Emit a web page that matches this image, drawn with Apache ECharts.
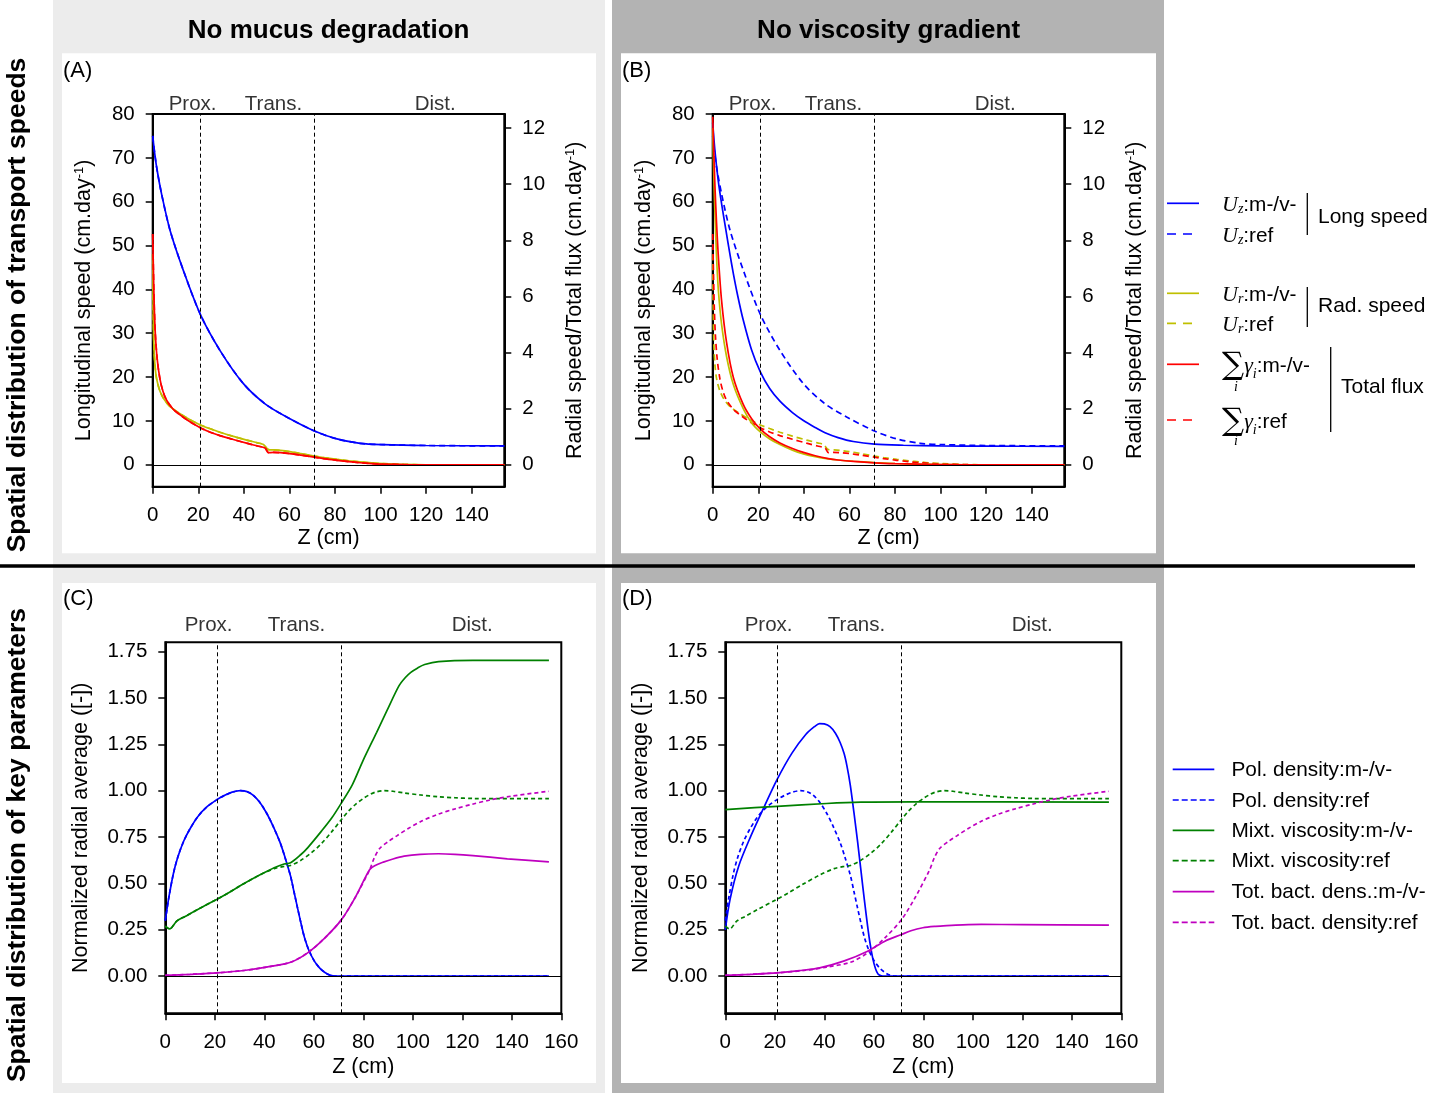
<!DOCTYPE html>
<html><head><meta charset="utf-8">
<script src="https://cdn.jsdelivr.net/npm/echarts@6/dist/echarts.min.js"></script>
<style>html,body{margin:0;padding:0;background:#fff}#c{width:1448px;height:1093px}</style>
</head><body><div id="c"></div>
<script>
// ---------- DATA ----------
// Region annotations
const regionNames = ['Prox.', 'Trans.', 'Dist.'];
const regionLabelX = [17.5, 53, 124];
const regionBounds = [21, 71];

// Tick labels
const xTicksAB = [0, 20, 40, 60, 80, 100, 120, 140];
const yTicksSpeed = [0, 10, 20, 30, 40, 50, 60, 70, 80];
const yTicksRadial = [0, 2, 4, 6, 8, 10, 12];
const xTicksCD = [0, 20, 40, 60, 80, 100, 120, 140, 160];
const yTicksNorm = [0, 0.25, 0.5, 0.75, 1.0, 1.25, 1.5, 1.75];

// Reference simulation: longitudinal speed (cm/day)
const zUz = [0, 1, 2, 4, 7.6, 13.4, 20.9, 29.5, 39.8, 49.3, 58.8, 71, 80.8, 91, 101, 120, 154.3];
const uzRef = [75, 70.5, 67, 61.5, 53.5, 44.4, 34.3, 26.1, 18.5, 13.9, 10.9, 7.7, 5.9, 4.9, 4.6, 4.4, 4.3];
// Reference: radial speed (right axis)
const zUr = [0, 0.2, 0.5, 1, 1.75, 3.2, 5, 7.6, 12, 16, 20.9, 25, 29.5, 35, 41.2, 46, 48.6, 50.8, 53, 56, 60, 65, 71, 75, 80.8, 86, 91, 96, 101, 110, 120, 154.3];
const urRef = [7.5, 5.6, 4.3, 3.55, 3.05, 2.62, 2.33, 2.07, 1.82, 1.62, 1.42, 1.29, 1.16, 1.02, 0.88, 0.78, 0.72, 0.54, 0.53, 0.51, 0.47, 0.40, 0.31, 0.255, 0.19, 0.14, 0.10, 0.065, 0.04, 0.012, 0, 0];
// Reference: total flux (right axis)
const zFlux = [0, 0.3, 0.7, 1.2, 2, 3.2, 4.5, 6.1, 9, 12, 16, 20.9, 25, 29.5, 35, 41.2, 46, 49.3, 50.8, 53, 56, 60, 65, 71, 75, 80.8, 86, 91, 96, 101, 110, 120, 154.3];
const fluxRef = [8.22, 7.0, 5.6, 4.6, 3.75, 3.05, 2.62, 2.3, 1.98, 1.78, 1.55, 1.32, 1.17, 1.04, 0.91, 0.77, 0.67, 0.6, 0.43, 0.44, 0.43, 0.40, 0.345, 0.27, 0.22, 0.16, 0.11, 0.072, 0.043, 0.022, 0.005, 0, 0];

// No mucus degradation (panel A): curves coincide with reference
const uzNoDeg = uzRef;
const urNoDeg = urRef;
const fluxNoDeg = fluxRef;

// No viscosity gradient (panel B)
const zUzB = [0, 1, 2.5, 4, 5.8, 7.5, 9.1, 11, 13.4, 17, 20.9, 25, 29.5, 35, 39.8, 45, 49.3, 55, 61.7, 71, 83.7, 100, 120, 154.3];
const uzNoVisc = [78, 71.5, 64.5, 59.2, 53.5, 48.2, 43.5, 38.5, 33, 26.3, 21.2, 17.4, 14.5, 11.9, 10.1, 8.5, 7.3, 6.2, 5.3, 4.7, 4.45, 4.3, 4.25, 4.2];
const zRadB = [0, 0.5, 1, 1.7, 2.5, 3.9, 6.1, 9.1, 13.4, 17, 20.9, 25, 29.5, 35, 39.8, 45, 50.7, 55, 61.7, 71, 80, 90, 100, 110, 154.3];
const urNoVisc = [12, 10.3, 8.9, 7.4, 6.2, 5.0, 3.85, 2.85, 2.0, 1.5, 1.17, 0.92, 0.72, 0.52, 0.39, 0.29, 0.21, 0.17, 0.125, 0.08, 0.045, 0.02, 0.007, 0, 0];
const fluxNoVisc = [12.4, 11.1, 9.9, 8.6, 7.4, 5.85, 4.35, 3.1, 2.15, 1.65, 1.27, 1.0, 0.78, 0.58, 0.44, 0.32, 0.22, 0.17, 0.12, 0.07, 0.04, 0.02, 0.006, 0, 0];

// Reference: normalized radial averages
const zPol = [0, 0.55, 1.5, 3.3, 5, 7.5, 10, 13.1, 17, 20.9, 24, 27, 30.4, 33, 35.3, 38, 40.9, 43.5, 46.4, 48.5, 50.6, 52, 53.4, 55, 56.2, 58, 60.3, 62.5, 64.5, 66.5, 68.7, 80, 100, 155];
const polRef = [0.30, 0.35, 0.43, 0.555, 0.64, 0.73, 0.795, 0.86, 0.915, 0.952, 0.975, 0.992, 1.0, 0.995, 0.978, 0.94, 0.88, 0.81, 0.72, 0.635, 0.54, 0.455, 0.37, 0.275, 0.21, 0.14, 0.08, 0.042, 0.02, 0.006, 0, 0, 0, 0];
const zVisc = [0, 1.7, 4.7, 8, 13.1, 20.9, 25.6, 31.1, 38.1, 44, 48, 50.6, 54.8, 59, 63.1, 67, 71.2, 74, 77, 80, 82.6, 85, 88.1, 92, 96.5, 103, 110.4, 117, 124.3, 135, 155];
const viscRef = [0.27, 0.255, 0.298, 0.322, 0.36, 0.415, 0.45, 0.494, 0.545, 0.58, 0.592, 0.597, 0.625, 0.665, 0.715, 0.775, 0.845, 0.89, 0.928, 0.958, 0.979, 0.993, 1.0, 0.997, 0.988, 0.977, 0.967, 0.962, 0.958, 0.957, 0.957];
const zBact = [0, 10, 20.9, 32.5, 40.9, 50.6, 57.5, 64.5, 71.2, 77, 82.6, 84.5, 86.7, 90, 93.7, 98, 103.4, 110, 117.3, 124, 131.2, 140, 155];
const bactRef = [0.004, 0.01, 0.018, 0.032, 0.049, 0.075, 0.126, 0.207, 0.305, 0.431, 0.575, 0.64, 0.69, 0.725, 0.758, 0.795, 0.835, 0.872, 0.903, 0.927, 0.95, 0.971, 0.997];

// No mucus degradation (panel C)
const polNoDeg = polRef;
const zViscC = [0, 1.7, 4.7, 8, 13.1, 20.9, 25.6, 31.1, 38.1, 44, 48, 50.6, 54.8, 57.5, 63.1, 67.3, 71.2, 75.6, 79.8, 85.4, 89.5, 94.4, 97, 99.2, 102, 104.8, 110.4, 124.3, 155];
const viscNoDeg = [0.27, 0.255, 0.298, 0.322, 0.36, 0.415, 0.45, 0.494, 0.545, 0.585, 0.605, 0.611, 0.656, 0.692, 0.782, 0.854, 0.935, 1.033, 1.16, 1.315, 1.43, 1.565, 1.61, 1.638, 1.662, 1.68, 1.696, 1.703, 1.703];
const zBactC = [0, 10, 20.9, 32.5, 40.9, 50.6, 57.5, 64.5, 71.2, 77, 82.6, 85, 88.1, 92, 96.5, 103, 110.4, 117, 124.3, 138.2, 155];
const bactNoDeg = [0.004, 0.01, 0.018, 0.032, 0.049, 0.075, 0.126, 0.207, 0.305, 0.431, 0.575, 0.598, 0.615, 0.632, 0.647, 0.657, 0.66, 0.657, 0.65, 0.633, 0.616];

// No viscosity gradient (panel D)
const zPolD = [0, 1.9, 5.4, 10.3, 15.8, 20.9, 27, 32.5, 36, 38.1, 40, 42.3, 44.5, 46.4, 48, 49.2, 50.5, 52, 53.5, 54.8, 56.2, 57.5, 58.5, 59.6, 60.7, 61.7, 63, 64.5, 80, 100, 155];
const polNoVisc = [0.25, 0.413, 0.593, 0.755, 0.916, 1.06, 1.204, 1.303, 1.345, 1.362, 1.36, 1.345, 1.31, 1.26, 1.2, 1.13, 1.03, 0.88, 0.72, 0.57, 0.41, 0.27, 0.175, 0.095, 0.04, 0.012, 0.002, 0, 0, 0, 0];
const zViscD = [0, 20.9, 40.9, 54.8, 75.6, 155];
const viscNoVisc = [0.898, 0.916, 0.931, 0.938, 0.94, 0.938];
const zBactD = [0, 10, 20.9, 30, 38.1, 47.8, 57.5, 64.5, 71.2, 75, 79.8, 85, 89.5, 96, 103.4, 120, 155];
const bactNoVisc = [0.004, 0.01, 0.018, 0.03, 0.045, 0.081, 0.135, 0.189, 0.225, 0.245, 0.261, 0.269, 0.273, 0.277, 0.279, 0.278, 0.275];

// ---------- CHART ----------
const FF = '"Liberation Sans", Arial, sans-serif';
const SERIF = '"Liberation Serif", "DejaVu Serif", serif';
const BLUE = '#0000ff', YEL = '#bfbf00', RED = '#ff0000', GREEN = '#008000', MAG = '#bf00bf';
const TICKFS = 20.5, NAMEFS = 21.5;

function ln(xs, ys, color, dashed, xi, yi, dash) {
  return {
    type: 'line', xAxisIndex: xi, yAxisIndex: yi,
    data: xs.map((x, i) => [x, ys[i]]),
    showSymbol: false, symbol: 'none', smooth: 0.3,
    lineStyle: { color: color, width: 1.7, type: dashed ? dash : 'solid' },
    silent: true, animation: false
  };
}
function regions(xi, yi, top, dist) {
  const dashLine = { type: [4, 3], width: 1, color: '#000' };
  return {
    type: 'scatter', xAxisIndex: xi, yAxisIndex: yi,
    data: regionLabelX.map((x, i) => ({ value: [x, top], name: regionNames[i] })),
    symbolSize: 1, itemStyle: { color: 'rgba(0,0,0,0)' }, silent: true, animation: false, clip: false,
    label: { show: true, position: 'top', distance: dist, formatter: '{b}', fontSize: TICKFS, color: '#000', fontFamily: FF },
    markLine: {
      silent: true, symbol: 'none', animation: false, label: { show: false },
      data: [
        { xAxis: regionBounds[0], lineStyle: dashLine },
        { xAxis: regionBounds[1], lineStyle: dashLine },
        { yAxis: 0, lineStyle: { type: 'solid', width: 1, color: '#000' } }
      ]
    }
  };
}
function xAx(gi, max, ticks, nameGap, margin) {
  return {
    type: 'value', gridIndex: gi, min: 0, max: max,
    axisLine: { show: true, onZero: false, lineStyle: { color: '#000', width: 2 } },
    axisTick: { show: true, length: 7, lineStyle: { color: '#000', width: 1.5 }, customValues: ticks },
    axisLabel: { customValues: ticks, fontSize: TICKFS, color: '#000', margin: margin, fontFamily: FF },
    splitLine: { show: false },
    name: 'Z (cm)', nameLocation: 'middle', nameGap: nameGap,
    nameTextStyle: { fontSize: NAMEFS, color: '#000', fontFamily: FF }
  };
}
function yAx(gi, pos, min, max, ticks, name, gap, fmt) {
  return {
    type: 'value', gridIndex: gi, position: pos, min: min, max: max,
    axisLine: { show: true, onZero: false, lineStyle: { color: '#000', width: 2 } },
    axisTick: { show: true, length: 7, lineStyle: { color: '#000', width: 1.5 }, customValues: ticks },
    axisLabel: { customValues: ticks, fontSize: TICKFS, color: '#000', margin: 18, fontFamily: FF, formatter: fmt },
    splitLine: { show: false },
    name: name, nameLocation: 'middle', nameGap: gap, nameRotate: 90,
    nameTextStyle: { fontSize: NAMEFS, color: '#000', fontFamily: FF,
      rich: { sup: { fontSize: 13, verticalAlign: 'top', fontFamily: FF, color: '#000' } } }
  };
}

const grids = [
  { left: 152.7, top: 114, width: 351.6, height: 372.7 },
  { left: 712.7, top: 114, width: 351.6, height: 372.7 },
  { left: 165.3, top: 642.3, width: 396, height: 371 },
  { left: 725.3, top: 642.3, width: 396, height: 371 }
].map(g => Object.assign(g, { show: true, borderColor: '#000', borderWidth: 2, backgroundColor: 'rgba(0,0,0,0)', containLabel: false }));

const speedName = 'Longitudinal speed (cm.day{sup|-1})';
const radName = 'Radial speed/Total flux (cm.day{sup|-1})';
const normName = 'Normalized radial average ([-])';
const f2 = v => v.toFixed(2);

const xAxes = [
  xAx(0, 154.3, xTicksAB, 39, 18),
  xAx(1, 154.3, xTicksAB, 39, 18),
  xAx(2, 160, xTicksCD, 43, 19),
  xAx(3, 160, xTicksCD, 43, 19)
];
const yAxes = [
  yAx(0, 'left', -5, 80, yTicksSpeed, speedName, 58),
  yAx(0, 'right', -0.78125, 12.5, yTicksRadial, radName, 60),
  yAx(1, 'left', -5, 80, yTicksSpeed, speedName, 58),
  yAx(1, 'right', -0.78125, 12.5, yTicksRadial, radName, 60),
  yAx(2, 'left', -0.2, 1.8, yTicksNorm, normName, 73, f2),
  yAx(3, 'left', -0.2, 1.8, yTicksNorm, normName, 73, f2)
];

const series = [
  regions(0, 0, 80, -1), regions(1, 2, 80, -1), regions(2, 4, 1.8, 6), regions(3, 5, 1.8, 6),
  // Panel A
  ln(zUz, uzRef, BLUE, true, 0, 0, [6, 4]),
  ln(zUz, uzNoDeg, BLUE, false, 0, 0),
  ln(zUr, urRef, YEL, true, 0, 1, [6, 4]),
  ln(zUr, urNoDeg, YEL, false, 0, 1),
  ln(zFlux, fluxRef, RED, true, 0, 1, [6, 4]),
  ln(zFlux, fluxNoDeg, RED, false, 0, 1),
  // Panel B
  ln(zUz, uzRef, BLUE, true, 1, 2, [6, 4]),
  ln(zUzB, uzNoVisc, BLUE, false, 1, 2),
  ln(zUr, urRef, YEL, true, 1, 3, [6, 4]),
  ln(zFlux, fluxRef, RED, true, 1, 3, [6, 4]),
  ln(zRadB, urNoVisc, YEL, false, 1, 3),
  ln(zRadB, fluxNoVisc, RED, false, 1, 3),
  // Panel C
  ln(zPol, polRef, BLUE, true, 2, 4, [4, 3]),
  ln(zPol, polNoDeg, BLUE, false, 2, 4),
  ln(zVisc, viscRef, GREEN, true, 2, 4, [4, 3]),
  ln(zViscC, viscNoDeg, GREEN, false, 2, 4),
  ln(zBact, bactRef, MAG, true, 2, 4, [4, 3]),
  ln(zBactC, bactNoDeg, MAG, false, 2, 4),
  // Panel D
  ln(zPol, polRef, BLUE, true, 3, 5, [4, 3]),
  ln(zPolD, polNoVisc, BLUE, false, 3, 5),
  ln(zVisc, viscRef, GREEN, true, 3, 5, [4, 3]),
  ln(zViscD, viscNoVisc, GREEN, false, 3, 5),
  ln(zBact, bactRef, MAG, true, 3, 5, [4, 3]),
  ln(zBactD, bactNoVisc, MAG, false, 3, 5)
];

// ---------- DECORATION (backgrounds, titles, legends) ----------
const g = [];
const rect = (x, y, w, h, fill, z) => g.push({ type: 'rect', shape: { x, y, width: w, height: h }, style: { fill }, z, silent: true });
rect(53, 0, 552, 1093, '#ececec', -20);
rect(612, 0, 552, 1093, '#b3b3b3', -20);
rect(62, 53.3, 534, 500, '#ffffff', -19);
rect(621, 53.3, 535, 500, '#ffffff', -19);
rect(62, 583, 534, 500, '#ffffff', -19);
rect(621, 583, 535, 500, '#ffffff', -19);
const seg = (x1, y1, x2, y2, stroke, w, dash, z) => g.push({ type: 'line', shape: { x1, y1, x2, y2 }, style: { stroke, lineWidth: w, lineDash: dash || null }, z: z || 10, silent: true });
seg(0, 566, 1415, 566, '#000', 3.5, null, -18);
const txt = (x, y, text, opts) => g.push(Object.assign({ type: 'text', x, y, silent: true, z: 10,
  style: Object.assign({ text, fill: '#000', fontSize: 20.8, fontFamily: FF, align: 'left', verticalAlign: 'middle' }, opts && opts.style) }, opts && opts.el));

txt(328.6, 31, 'No mucus degradation', { style: { fontSize: 26, fontWeight: 'bold', align: 'center' } });
txt(888.6, 31, 'No viscosity gradient', { style: { fontSize: 26, fontWeight: 'bold', align: 'center' } });
txt(18, 305, 'Spatial distribution of transport speeds', { style: { fontSize: 26.5, fontWeight: 'bold', align: 'center' }, el: { rotation: Math.PI / 2 } });
txt(18, 845, 'Spatial distribution of key parameters', { style: { fontSize: 26.5, fontWeight: 'bold', align: 'center' }, el: { rotation: Math.PI / 2 } });
txt(63, 71, '(A)', { style: { fontSize: 22 } });
txt(622, 71, '(B)', { style: { fontSize: 22 } });
txt(63, 599, '(C)', { style: { fontSize: 22 } });
txt(622, 599, '(D)', { style: { fontSize: 22 } });

// Top legend (speeds)
const mathRich = {
  it: { fontFamily: SERIF, fontStyle: 'italic', fontSize: 22 },
  sb: { fontFamily: SERIF, fontStyle: 'italic', fontSize: 14, verticalAlign: 'bottom' },
  sum: { fontFamily: '"DejaVu Serif", serif', fontSize: 31 },
  t: { fontFamily: FF, fontSize: 20.8 }
};
const topLeg = [
  { y: 203.3, c: BLUE, d: false, t: '{it|U}{sb|z}{t|:m-/v-}' },
  { y: 234, c: BLUE, d: true, t: '{it|U}{sb|z}{t|:ref}' },
  { y: 293.3, c: YEL, d: false, t: '{it|U}{sb|r}{t|:m-/v-}' },
  { y: 323.3, c: YEL, d: true, t: '{it|U}{sb|r}{t|:ref}' },
  { y: 364.3, c: RED, d: false, t: '{sum|∑}{it|γ}{sb|i}{t|:m-/v-}' },
  { y: 420, c: RED, d: true, t: '{sum|∑}{it|γ}{sb|i}{t|:ref}' }
];
topLeg.forEach(e => {
  seg(1167, e.y, 1199, e.y, e.c, 1.7, e.d ? [9, 7] : null);
  g.push({ type: 'text', x: 1222, y: e.y + 2, silent: true, z: 10,
    style: { text: e.t, rich: mathRich, fill: '#000', fontSize: 20.8, fontFamily: FF, align: 'left', verticalAlign: 'middle' } });
});
txt(1234, 387, 'i', { style: { fontFamily: SERIF, fontStyle: 'italic', fontSize: 14 } });
txt(1234, 441, 'i', { style: { fontFamily: SERIF, fontStyle: 'italic', fontSize: 14 } });
seg(1307.3, 193, 1307.3, 235, '#000', 1.3);
seg(1307.3, 287, 1307.3, 327, '#000', 1.3);
seg(1330.7, 347, 1330.7, 432, '#000', 1.3);
txt(1318, 217, 'Long speed', { style: { fontSize: 21 } });
txt(1318, 306, 'Rad. speed', { style: { fontSize: 21 } });
txt(1341, 387, 'Total flux', { style: { fontSize: 21 } });

// Bottom legend (key parameters)
const botLeg = [
  { y: 769.3, c: BLUE, d: false, t: 'Pol. density:m-/v-' },
  { y: 800, c: BLUE, d: true, t: 'Pol. density:ref' },
  { y: 830.3, c: GREEN, d: false, t: 'Mixt. viscosity:m-/v-' },
  { y: 860.7, c: GREEN, d: true, t: 'Mixt. viscosity:ref' },
  { y: 891.7, c: MAG, d: false, t: 'Tot. bact. dens.:m-/v-' },
  { y: 922.3, c: MAG, d: true, t: 'Tot. bact. density:ref' }
];
botLeg.forEach(e => {
  seg(1172.7, e.y, 1214.3, e.y, e.c, 1.7, e.d ? [6, 3] : null);
  txt(1231.5, e.y + 1, e.t);
});

const chart = echarts.init(document.getElementById('c'), null, { renderer: 'canvas', width: 1448, height: 1093 });
chart.setOption({
  animation: false,
  backgroundColor: '#ffffff',
  textStyle: { fontFamily: FF, color: '#000' },
  grid: grids,
  xAxis: xAxes,
  yAxis: yAxes,
  series: series,
  graphic: { elements: g }
});
</script></body></html>
